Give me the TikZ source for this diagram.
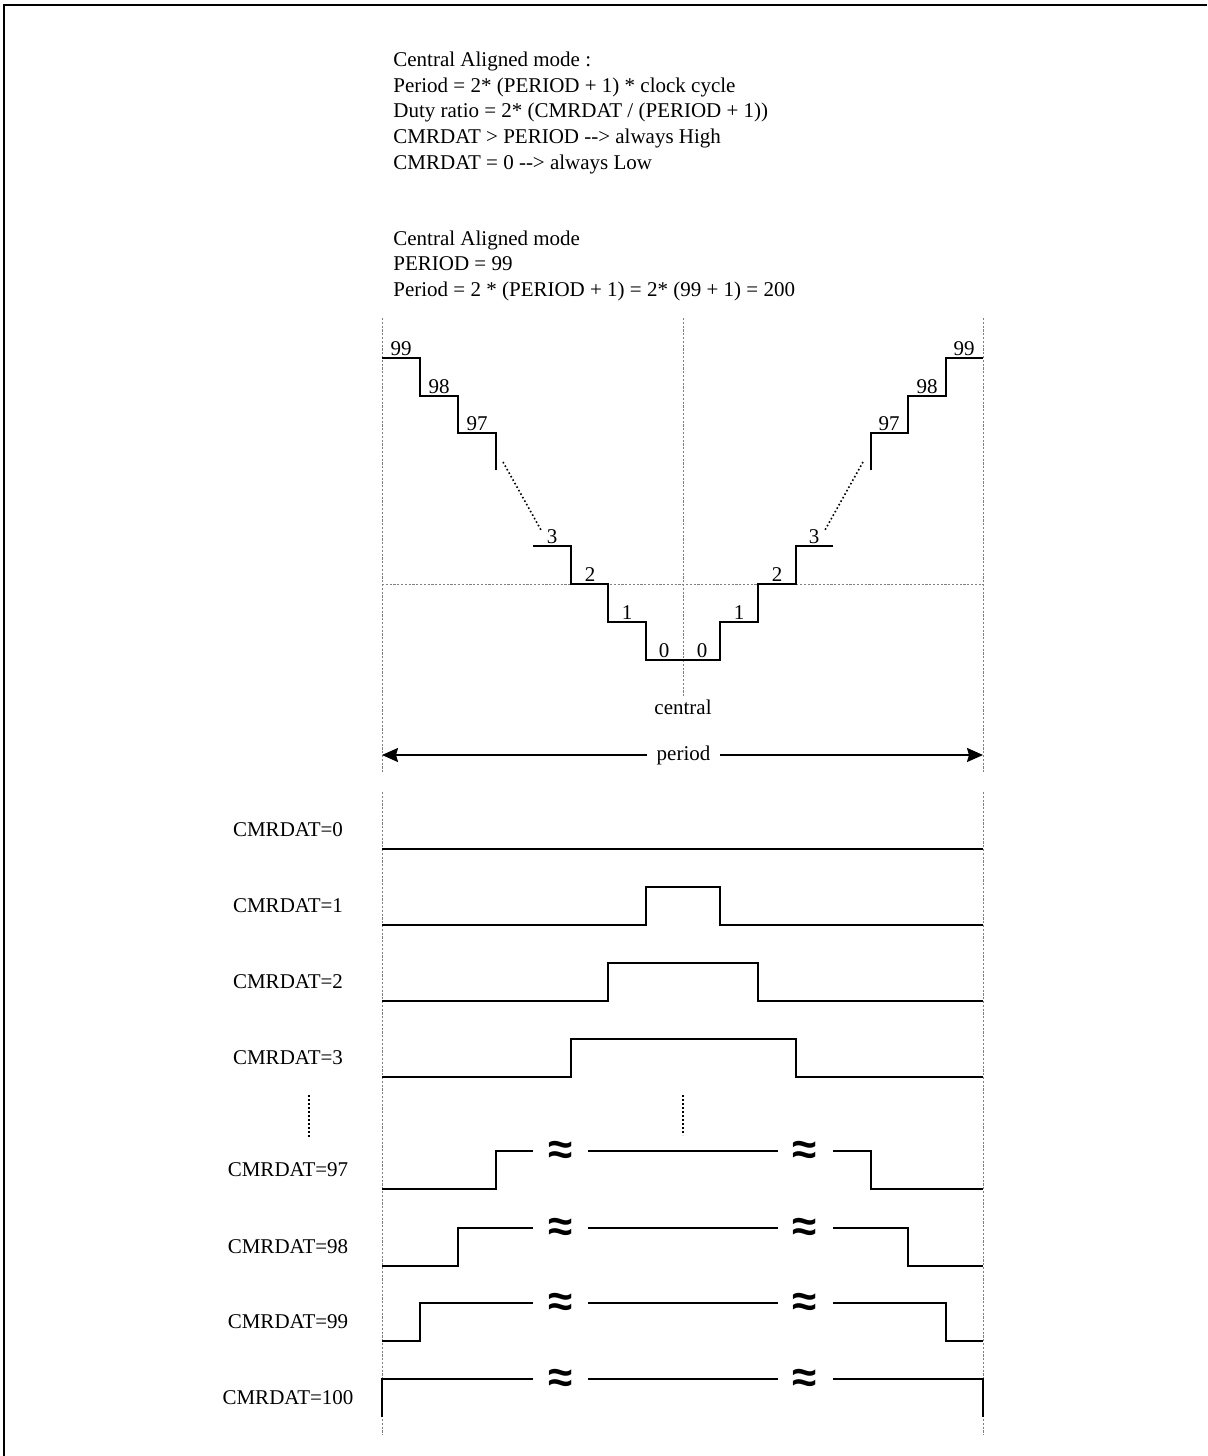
\documentclass[tikz,border=0pt]{standalone}
\usepackage{fontspec}
\setmainfont{Liberation Serif}
\newfontfamily\apxfont{Liberation Sans}
\usetikzlibrary{arrows.meta}
\begin{document}
\begin{tikzpicture}[x=0.5pt,y=-0.5pt,
  guide/.style={black!50, line width=0.5pt, dash pattern=on 1.1pt off 0.8pt},
  sig/.style={line width=1pt, line join=miter},
  dotline/.style={black, line width=0.8pt, dash pattern=on 0.8pt off 1.2pt},
  lbl/.style={font=\fontsize{10.5}{12}\selectfont, inner sep=0pt},
  steplbl/.style={lbl, anchor=south, inner sep=1.2pt},
  apx/.style={font=\apxfont\bfseries\fontsize{22}{22}\selectfont, inner sep=0pt},
  frameline/.style={line width=1.25pt}]
\useasboundingbox (0,0) rectangle (1207,1456);
\draw[frameline] (4,1456) -- (4,5) -- (1207,5);

% header text
\node[lbl, anchor=base west] (h1) at (393,66.7) {Central Aligned mode :};
\node[lbl, anchor=base west] (h2) at (393,92.3) {Period = 2* (PERIOD + 1) * clock cycle};
\node[lbl, anchor=base west] (h3) at (393,117.9) {Duty ratio = 2* (CMRDAT / (PERIOD + 1))};
\node[lbl, anchor=base west] (h4) at (393,143.5) {CMRDAT > PERIOD -{}-{}> always High};
\node[lbl, anchor=base west] (h5) at (393,169) {CMRDAT = 0 -{}-{}> always Low};
\node[lbl, anchor=base west] (h6) at (393,245) {Central Aligned mode};
\node[lbl, anchor=base west] (h7) at (393,270.5) {PERIOD = 99};
\node[lbl, anchor=base west] (h8) at (393,296) {Period = 2 * (PERIOD + 1) = 2* (99 + 1) = 200};

% guide lines
\draw[guide] (382,318) -- (382,772);
\draw[guide] (382,792) -- (382,1435);
\draw[guide] (983,318) -- (983,772);
\draw[guide] (983,792) -- (983,1435);
\draw[guide] (683,318) -- (683,697);
\draw[guide] (382,584) -- (983,584);

% staircase
\draw[sig] (382,358) -| (420,396) -| (458,433) -| (496,470);
\draw[sig] (533,546) -| (571,584) -| (608,622) -| (646,660) -- (720,660)
           |- (758,622) |- (796,584) |- (833,546);
\draw[sig] (871,470) |- (908,433) |- (946,396) |- (983,358);
\draw[dotline] (503,462) -- (541,530);
\draw[dotline] (863,462) -- (825,530);

\node[steplbl] (l99) at (401,358) {99};
\node[steplbl] (l98) at (439,396) {98};
\node[steplbl] (l97) at (477,433) {97};
\node[steplbl] (l3) at (552,546) {3};
\node[steplbl] (l2) at (590,584) {2};
\node[steplbl] (l1) at (627,622) {1};
\node[steplbl] (l0) at (664,660) {0};
\node[steplbl] (r0) at (702,660) {0};
\node[steplbl] (r1) at (739,622) {1};
\node[steplbl] (r2) at (777,584) {2};
\node[steplbl] (r3) at (814,546) {3};
\node[steplbl] (r97) at (889,433) {97};
\node[steplbl] (r98) at (927,396) {98};
\node[steplbl] (r99) at (964,358) {99};

\node[lbl] (central) at (683,707) {central};

% period arrow
\coordinate (pl) at (382,755);
\coordinate (pr) at (983,755);
\draw[line width=1pt, {Stealth[length=8pt,width=7pt,inset=1pt]}-{Stealth[length=8pt,width=7pt,inset=1pt]}] (pl) -- (pr);
\node[lbl, fill=white, inner xsep=5pt, inner ysep=1pt] (period) at (683.5,755) {period};

% waveform labels
\node[lbl] (c0) at (288,830) {CMRDAT=0};
\node[lbl] (c1) at (288,906) {CMRDAT=1};
\node[lbl] (c2) at (288,982) {CMRDAT=2};
\node[lbl] (c3) at (288,1058) {CMRDAT=3};
\node[lbl] (c97) at (288,1170) {CMRDAT=97};
\node[lbl] (c98) at (288,1247) {CMRDAT=98};
\node[lbl] (c99) at (288,1322) {CMRDAT=99};
\node[lbl] (c100) at (288,1398) {CMRDAT=100};

% waveforms
\draw[sig] (382,849) -- (983,849);
\draw[sig] (382,925) -| (646,887) -| (720,925) -- (983,925);
\draw[sig] (382,1001) -| (608,963) -| (758,1001) -- (983,1001);
\draw[sig] (382,1077) -| (571,1039) -| (796,1077) -- (983,1077);

\draw[dotline] (309,1095) -- (309,1138);
\draw[dotline] (683,1095) -- (683,1135);

% CMRDAT=97
\draw[sig] (382,1189) -| (496,1151) -- (533,1151);
\draw[sig] (588,1151) -- (778,1151);
\draw[sig] (833,1151) -| (871,1189) -- (983,1189);
\node[apx] (a97l) at (561,1153) {≈};
\node[apx] (a97r) at (805,1153) {≈};
% CMRDAT=98
\draw[sig] (382,1266) -| (458,1228) -- (533,1228);
\draw[sig] (588,1228) -- (778,1228);
\draw[sig] (833,1228) -| (908,1266) -- (983,1266);
\node[apx] (a98l) at (561,1230) {≈};
\node[apx] (a98r) at (805,1230) {≈};
% CMRDAT=99
\draw[sig] (382,1341) -| (420,1303) -- (533,1303);
\draw[sig] (588,1303) -- (778,1303);
\draw[sig] (833,1303) -| (946,1341) -- (983,1341);
\node[apx] (a99l) at (561,1305) {≈};
\node[apx] (a99r) at (805,1305) {≈};
% CMRDAT=100
\draw[sig] (382,1417) |- (533,1379);
\draw[sig] (588,1379) -- (778,1379);
\draw[sig] (833,1379) -| (983,1417);
\node[apx] (a100l) at (561,1381) {≈};
\node[apx] (a100r) at (805,1381) {≈};
\end{tikzpicture}
\end{document}
